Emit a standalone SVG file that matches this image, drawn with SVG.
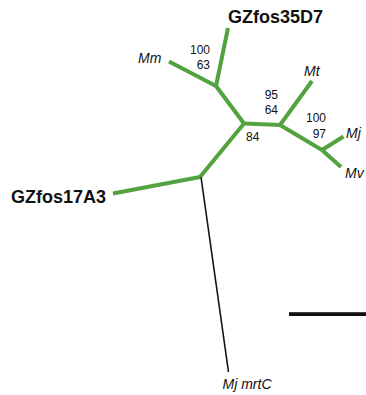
<svg xmlns="http://www.w3.org/2000/svg" width="366" height="395" viewBox="0 0 366 395">
<style>
.g{stroke:#52a33f;stroke-width:4;fill:none;stroke-linecap:butt;stroke-linejoin:round}
.k{stroke:#111;stroke-width:1.6;fill:none}
.bold{font-family:"Liberation Sans",Arial,sans-serif;font-weight:bold;font-size:18px;fill:#111}
.it{font-family:"Liberation Sans",Arial,sans-serif;font-style:italic;font-size:14px;fill:#111}
.n{font-family:"Liberation Sans",Arial,sans-serif;font-size:12px;fill:#111}
</style>
<rect width="366" height="395" fill="#fff"/>
<g id="connectors">
<path class="g" d="M113,193.5 L200,177"/>
<path class="g" d="M200,177 L244,123.5"/>
<path class="g" d="M244,123.5 L216,86"/>
<path class="g" d="M216,86 L228,28"/>
<path class="g" d="M216,86 L169,61.5"/>
<path class="g" d="M244,123.5 L280,125"/>
<path class="g" d="M280,125 L312,81"/>
<path class="g" d="M280,125 L322,150"/>
<path class="g" d="M322,150 L343.5,136.5"/>
<path class="g" d="M322,150 L341,167"/>
<path class="k" d="M201,177 L228.5,372"/>
</g>
<g id="scale-bar"><rect x="289" y="312.2" width="77" height="3.8" fill="#111"/></g>
<g id="node-GZfos35D7"><text class="bold" x="228" y="22.5">GZfos35D7</text></g>
<g id="node-GZfos17A3"><text class="bold" x="11" y="202.5">GZfos17A3</text></g>
<g id="node-Mm"><text class="it" x="138" y="63">Mm</text></g>
<g id="node-Mt"><text class="it" x="304" y="75.5">Mt</text></g>
<g id="node-Mj"><text class="it" x="346" y="138">Mj</text></g>
<g id="node-Mv"><text class="it" x="345" y="178">Mv</text></g>
<g id="node-MjmrtC"><text class="it" x="222.5" y="388.5">Mj mrtC</text></g>
<g id="support">
<text class="n" x="210" y="54" text-anchor="end">100</text>
<text class="n" x="210" y="69" text-anchor="end">63</text>
<text class="n" x="278" y="99" text-anchor="end">95</text>
<text class="n" x="278" y="113.5" text-anchor="end">64</text>
<text class="n" x="326" y="122" text-anchor="end">100</text>
<text class="n" x="326" y="137.5" text-anchor="end">97</text>
<text class="n" x="246" y="141">84</text>
</g>
</svg>
